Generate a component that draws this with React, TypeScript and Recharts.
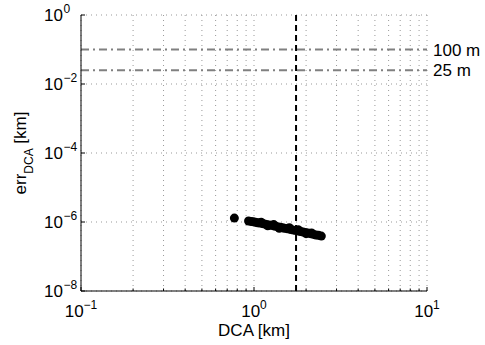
import React from 'react';
import {
  ScatterChart,
  Scatter,
  XAxis,
  YAxis,
  CartesianGrid,
  ReferenceLine,
} from 'recharts';

// closest approach distance [km] and its error [km]
const dcaKm = [
  0.77,
  0.93, 0.96, 0.99, 1.02, 1.05, 1.08, 1.1, 1.12, 1.15, 1.18, 1.2, 1.22, 1.26, 1.3, 1.3,
  1.34, 1.38, 1.4, 1.42, 1.46, 1.5, 1.55, 1.6, 1.6, 1.65, 1.7, 1.75, 1.8, 1.8, 1.86, 1.92,
  1.98, 2.0, 2.05, 2.12, 2.15, 2.2, 2.28, 2.36, 2.45,
];
const errKm = [
  1.3e-6,
  1.07e-6, 1.04e-6, 1.01e-6, 0.98e-6, 0.95e-6, 0.93e-6, 0.98e-6, 0.9e-6, 0.87e-6, 0.85e-6, 0.78e-6, 0.82e-6, 0.8e-6, 0.77e-6, 0.84e-6,
  0.75e-6, 0.72e-6, 0.66e-6, 0.7e-6, 0.68e-6, 0.66e-6, 0.64e-6, 0.62e-6, 0.68e-6, 0.6e-6, 0.58e-6, 0.57e-6, 0.55e-6, 0.6e-6, 0.53e-6, 0.51e-6,
  0.5e-6, 0.46e-6, 0.48e-6, 0.46e-6, 0.48e-6, 0.44e-6, 0.42e-6, 0.41e-6, 0.39e-6,
];

const xMajor = [0.1, 1, 10];
const xTicks = [0.1, 0.2, 0.3, 0.4, 0.5, 0.6, 0.7, 0.8, 0.9, 1, 2, 3, 4, 5, 6, 7, 8, 9, 10];
const yTicks = [1e-8, 1e-6, 1e-4, 1e-2, 1];

const thresholds = [
  { value: 0.1, label: '100 m' },
  { value: 0.025, label: '25 m' },
];
const dcaLimit = 1.75;

const points = dcaKm.map((x, i) => ({ x, y: errKm[i] }));

const FONT = '"Liberation Sans", Arial, Helvetica, sans-serif';

const expOf = (v: number) => {
  const e = Math.round(Math.log10(v));
  return e < 0 ? `\u2212${-e}` : `${e}`;
};

const isMajor = (v: number) => xMajor.some((m) => Math.abs(m - v) < 1e-9);

function BottomTick({ x, y, payload }: any) {
  const v = payload.value;
  const major = isMajor(v);
  return (
    <g>
      <line x1={x} x2={x} y1={y} y2={y - (major ? 4 : 2.5)} stroke="#000" />
      {major && (
        <text x={x} y={y + 25.5} textAnchor="middle" fontSize={17} fontFamily={FONT} fill="#000">
          <tspan>10</tspan>
          <tspan dy={-8} fontSize={12}>{expOf(v)}</tspan>
        </text>
      )}
    </g>
  );
}

function TopTick({ x, y, payload }: any) {
  const major = isMajor(payload.value);
  return <line x1={x} x2={x} y1={y} y2={y + (major ? 4 : 2.5)} stroke="#000" />;
}

function LeftTick({ x, y, payload }: any) {
  return (
    <g>
      <line x1={x} x2={x + 4} y1={y} y2={y} stroke="#000" />
      <text x={x - 18} y={y + 6} textAnchor="end" fontSize={17} fontFamily={FONT} fill="#000">
        10
      </text>
      <text x={x - 17.5} y={y - 2} textAnchor="start" fontSize={12} fontFamily={FONT} fill="#000">
        {expOf(payload.value)}
      </text>
    </g>
  );
}

function RightTick({ x, y }: any) {
  return <line x1={x} x2={x - 4} y1={y} y2={y} stroke="#000" />;
}

const thresholdLabel = (text: string) => (props: any) => {
  const { x, y, width } = props.viewBox;
  return (
    <text x={x + width + 6} y={y + 6} fontSize={17} fontFamily={FONT} fill="#000">
      {text}
    </text>
  );
};

function XTitle(props: any) {
  const { x, y, width } = props.viewBox;
  return (
    <text x={x + width / 2} y={y + 45} textAnchor="middle" fontSize={17} fontFamily={FONT} fill="#000">
      DCA [km]
    </text>
  );
}

function YTitle(props: any) {
  const { x, y, height } = props.viewBox;
  const cx = x + 25.5;
  const cy = y + height / 2;
  return (
    <text
      x={cx}
      y={cy}
      transform={`rotate(-90 ${cx} ${cy})`}
      textAnchor="middle"
      fontSize={17}
      fontFamily={FONT}
      fill="#000"
    >
      <tspan>err</tspan>
      <tspan dy={7} fontSize={12}>DCA</tspan>
      <tspan dy={-7}> [km]</tspan>
    </text>
  );
}

const Dot = (p: any) => <circle cx={p.cx} cy={p.cy} r={4.5} fill="#000" />;

export default function App() {
  return (
    <div style={{ position: 'absolute', left: 0, top: 0, background: '#fff' }}>
      <ScatterChart width={485} height={345} margin={{ top: 15, right: 58, bottom: 0, left: 0 }}>
        <XAxis
          xAxisId="b"
          dataKey="x"
          type="number"
          scale="log"
          domain={[0.1, 10]}
          allowDataOverflow
          ticks={xTicks}
          interval={0}
          height={54}
          tickSize={0}
          tickMargin={0}
          tickLine={false}
          tick={<BottomTick />}
          axisLine={{ stroke: '#000' }}
          label={<XTitle />}
        />
        <XAxis
          xAxisId="t"
          orientation="top"
          type="number"
          scale="log"
          domain={[0.1, 10]}
          allowDataOverflow
          ticks={xTicks}
          interval={0}
          height={0}
          tickSize={0}
          tickMargin={0}
          tickLine={false}
          tick={<TopTick />}
          axisLine={{ stroke: '#000' }}
        />
        <YAxis
          yAxisId="l"
          dataKey="y"
          type="number"
          scale="log"
          domain={[1e-8, 1]}
          allowDataOverflow
          ticks={yTicks}
          interval={0}
          width={81}
          tickSize={0}
          tickMargin={0}
          tickLine={false}
          tick={<LeftTick />}
          axisLine={{ stroke: '#000' }}
          label={<YTitle />}
        />
        <YAxis
          yAxisId="r"
          orientation="right"
          type="number"
          scale="log"
          domain={[1e-8, 1]}
          allowDataOverflow
          ticks={yTicks}
          interval={0}
          width={0}
          tickSize={0}
          tickMargin={0}
          tickLine={false}
          tick={<RightTick />}
          axisLine={{ stroke: '#000' }}
        />
        <CartesianGrid xAxisId="b" yAxisId="l" stroke="#999" strokeDasharray="1 4" />
        {thresholds.map((t) => (
          <ReferenceLine
            key={t.label}
            xAxisId="b"
            yAxisId="l"
            y={t.value}
            stroke="#808080"
            strokeWidth={2}
            strokeDasharray="8 4 2 4"
            label={thresholdLabel(t.label)}
          />
        ))}
        <ReferenceLine
          xAxisId="b"
          yAxisId="l"
          x={dcaLimit}
          stroke="#000"
          strokeWidth={2}
          strokeDasharray="6 4"
        />
        <Scatter
          xAxisId="b"
          yAxisId="l"
          data={points}
          shape={Dot}
          isAnimationActive={false}
        />
      </ScatterChart>
    </div>
  );
}
